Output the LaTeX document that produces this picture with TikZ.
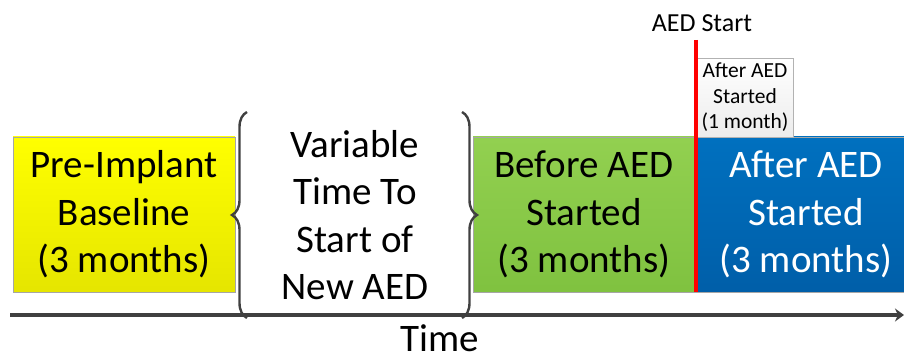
\documentclass[tikz,border=0pt]{standalone}
\usepackage{fontspec}
\setmainfont{Carlito}
\usetikzlibrary{arrows.meta,calc,decorations.pathreplacing}
\definecolor{AxisClr}{rgb}{0.25,0.25,0.25}
\definecolor{PreClr}{rgb}{1,1,0}
\definecolor{PreDark}{rgb}{0.9,0.9,0}
\definecolor{BeforeClr}{rgb}{0.573,0.816,0.314}
\definecolor{BeforeDark}{rgb}{0.50,0.76,0.25}
\definecolor{AfterClr}{rgb}{0,0.44,0.75}
\definecolor{AfterDark}{rgb}{0,0.37,0.66}
\newcommand{\bigtxt}{\fontsize{39}{47.5}\selectfont}

\begin{document}
\begin{tikzpicture}[x=1pt,y=-1pt,
  period/.style={draw=gray!70,line width=0.8pt,inner sep=0pt,align=center,
    minimum width=222pt,minimum height=155pt,font=\bigtxt},
  bracket/.style={draw=AxisClr,line width=2.4pt,decorate,
    decoration={brace,amplitude=15pt,aspect=0.5}},
  startline/.style={red,line width=4.5pt},
  timeaxis/.style={AxisClr,line width=3.5pt,-{Stealth[length=9pt,width=13pt]}}]
\useasboundingbox (0,0) rectangle (904,355);

\node[period,top color=PreClr,bottom color=PreDark] (pre) at (124,214.5)
  {Pre-Implant\\Baseline\\(3 months)};
\node[align=center,font=\bigtxt,inner sep=0pt] (gap) at (355,215)
  {Variable\\Time To\\Start of\\New AED};
\node[period,top color=BeforeClr,bottom color=BeforeDark] (before) at (584,214.5)
  {Before AED\\Started\\(3 months)};
\node[period,top color=AfterClr,bottom color=AfterDark,text=white] (after) at (806,214.5)
  {After AED\\Started\\(3 months)};
\node[draw=gray!60,line width=0.6pt,top color=white,bottom color=gray!15,
  minimum width=96pt,minimum height=79pt,inner sep=0pt,align=center,
  font=\fontsize{21.5}{25.5}\selectfont] (month) at (745,97.5)
  {After AED\\Started\\(1 month)};

\coordinate (aedtop) at (696,40);
\node[font=\fontsize{26}{30}\selectfont,inner sep=0pt] (aed) at (702,23) {AED Start};
\draw[startline] (aedtop) -- (aedtop |- before.south);

\coordinate (lbot) at (247,318);
\coordinate (ltop) at (247,112);
\coordinate (rtop) at (462,112);
\coordinate (rbot) at (462,318);
\draw[bracket] (lbot) -- (ltop);
\draw[bracket] (rtop) -- (rbot);

\coordinate (t0) at (10,315);
\coordinate (t1) at (904,315);
\draw[timeaxis] (t0) -- (t1);
\node[font=\bigtxt,inner sep=0pt,text depth=0pt,anchor=base] (time) at (440,351) {Time};

\end{tikzpicture}
\end{document}
